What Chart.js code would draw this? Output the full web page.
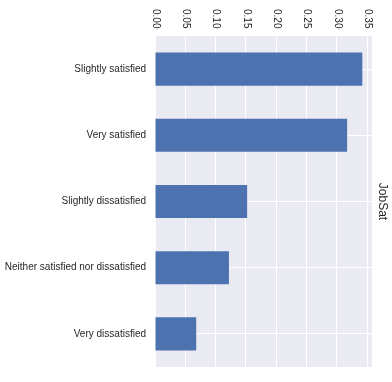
<!DOCTYPE html>
<html><head><meta charset="utf-8">
<script src="https://cdn.jsdelivr.net/npm/chart.js@4/dist/chart.umd.min.js"></script>
<style>html,body{margin:0;padding:0;background:#fff}#wrap{width:392px;height:382px}</style>
</head><body><div id="wrap"><canvas id="c"></canvas></div>
<script>
const categories = ["Slightly satisfied","Very satisfied","Slightly dissatisfied","Neither satisfied nor dissatisfied","Very dissatisfied"];
const shares = [0.342, 0.317, 0.152, 0.122, 0.068];
const xTicks = [0.00,0.05,0.10,0.15,0.20,0.25,0.30,0.35];
const axisTitle = "JobSat";

const FONT = "Arial, 'Liberation Sans', sans-serif";
const topLabels = {
  id:'topLabels',
  afterDraw(chart){
    const ctx = chart.ctx, xs = chart.scales.x, area = chart.chartArea;
    ctx.save();
    ctx.fillStyle = '#262626';
    ctx.font = '10px ' + FONT;
    ctx.textAlign = 'left'; ctx.textBaseline = 'middle';
    xTicks.forEach(v=>{
      const px = xs.getPixelForValue(v);
      ctx.save(); ctx.translate(px+0.5, 9); ctx.rotate(Math.PI/2);
      ctx.fillText(v.toFixed(2), 0, 0); ctx.restore();
    });
    ctx.font = '12px ' + FONT;
    ctx.textAlign='center';
    ctx.save(); ctx.translate(382, (area.top+area.bottom)/2); ctx.rotate(Math.PI/2);
    ctx.fillText(axisTitle, 0, 0); ctx.restore();
    ctx.restore();
  }
};
const bgPlugin = {
  id:'bg',
  beforeDraw(chart){
    const {ctx, chartArea:a} = chart;
    ctx.save(); ctx.fillStyle = '#EAEAF2';
    ctx.fillRect(a.left, a.top, a.right-a.left, a.bottom-a.top); ctx.restore();
  }
};
new Chart(document.getElementById('c'), {
  type:'bar',
  data:{labels:categories, datasets:[{data:shares, backgroundColor:'#4C72B0', borderWidth:0, barPercentage:0.5, categoryPercentage:1}]},
  options:{
    indexAxis:'y', responsive:true, maintainAspectRatio:false, animation:false,
    layout:{padding:{left:0, top:0, right:20, bottom:11}},
    plugins:{legend:{display:false}, tooltip:{enabled:false}},
    scales:{
      x:{position:'top', min:0, max:0.358, afterFit(s){s.height=36;},
        afterBuildTicks(s){ s.ticks = xTicks.map(v=>({value:v})); },
        ticks:{display:false},
        grid:{color:'#ffffff', lineWidth:1, drawTicks:false}, border:{display:false}},
      y:{afterFit(s){s.width=155;},
        ticks:{color:'#262626', font:{family:FONT, size:10}, padding:9},
        grid:{color:'#ffffff', lineWidth:1, drawTicks:false, offset:false}, border:{display:false}}
    }
  },
  plugins:[bgPlugin, topLabels]
});
</script></body></html>
